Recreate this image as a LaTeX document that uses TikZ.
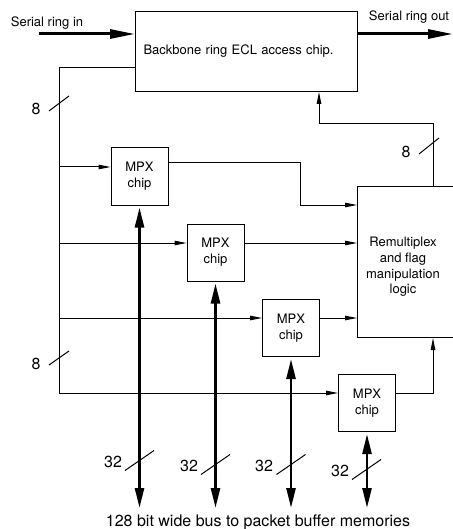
\documentclass[tikz,border=0pt]{standalone}
\usepackage{fontspec}
\setmainfont{TeX Gyre Heros}
\usetikzlibrary{calc, arrows.meta}
\tikzset{
  chip box/.style={draw, line width=1bp, minimum width=57bp, minimum height=57bp, inner sep=0pt, align=center, font=\fontsize{13bp}{15.7bp}\selectfont},
  box text/.style={align=center, font=\fontsize{13bp}{15.7bp}\selectfont},
  signal line/.style={line width=1bp},
  signal arrow/.style={line width=1bp, -{Triangle[length=12bp,width=4.5bp]}},
  ring arrow/.style={line width=3bp, -{Triangle[length=25bp,width=9bp]}},
  bus arrow/.style={line width=2.5bp, {Triangle[length=20bp,width=9bp]}-{Triangle[length=20bp,width=9bp]}, shorten <=2bp},
  tick line/.style={line width=1bp},
  width label/.style={font=\fontsize{16bp}{19bp}\selectfont},
}
\newcommand{\drawWidthTick}[5]{% centre, half run, half rise, label, label offset
  \draw[tick line] ($#1+(-#2,#3)$) -- ($#1+(#2,-#3)$);
  \node[width label] at ($#1+(#5)$) {#4};
}

\begin{document}
\begin{tikzpicture}[x=1bp, y=-1bp]
  \useasboundingbox (0,0) rectangle (453,529);
  \clip (0,0) rectangle (453,529);
  % blocks
  \node[chip box, anchor=north west, minimum width=222bp, minimum height=80bp, text width=206bp, inner xsep=8bp, align=left] (backbone) at (135,11) {Backbone ring ECL access chip.};
  \node[chip box, anchor=north west, minimum width=104bp, minimum height=151bp] (remux) at (357,186) {};
  \node[box text] (remuxtext) at (403,267) {Remultiplex\\and flag\\manipulation\\logic};
  \foreach \i/\x/\y in {1/139.5/176.5, 2/215.5/252.5, 3/291/328, 4/367/403}
    \node[chip box] (mpx\i) at (\x,\y) {MPX\\chip};

  \coordinate (ringin) at (39,34);
  \coordinate (ringout) at (453,34);
  \coordinate (busTop) at (59,68);
  \foreach \i/\y in {1/167, 2/243, 3/318, 4/393}
    \coordinate (tap\i) at (59,\y);
  \coordinate (bend1) at (300,163);
  \coordinate (feed1) at (357,205);
  \coordinate (ret) at (433,124);
  \coordinate (retEnd) at (319,124);
  \coordinate (busEnd) at (0,508);

  % serial ring
  \draw[ring arrow] (ringin) -- (ringin -| backbone.west);
  \draw[ring arrow] (ringin -| backbone.east) -- (ringout);
  \node[box text] (ringinlabel) at (47,23) {Serial ring in};
  \node[box text] (ringoutlabel) at (409,17) {Serial ring out};

  % 8 bit paths
  \draw[signal line] (backbone.west |- busTop) -- (busTop) -- (tap4);
  \foreach \i in {1,2,3,4}
    \draw[signal arrow] (tap\i) -- (tap\i -| mpx\i.west);
  \draw[signal arrow] (mpx1.east |- bend1) -- (bend1) |- (feed1);
  \foreach \i in {2,3}
    \draw[signal arrow] (tap\i -| mpx\i.east) -- (tap\i -| remux.west);
  \draw[signal arrow] (tap4 -| mpx4.east) -| (remux.south -| ret);
  \draw[signal arrow] (remux.north -| ret) -- (ret) -- (retEnd) -- (backbone.south -| retEnd);

  % 32 bit buses
  \foreach \i in {1,...,4}
    \draw[bus arrow] (mpx\i.south) -- (mpx\i.south |- busEnd);
  \node[width label] (buslabel) at (258,522) {128 bit wide bus to packet buffer memories};

  \drawWidthTick{(59,103.5)}{10}{7.5}{8}{-23,5.5}
  \drawWidthTick{(429,146)}{10}{8}{8}{-23,6}
  \drawWidthTick{(59,358)}{10}{7}{8}{-23,6}
  \drawWidthTick{(139.5,460.5)}{14.5}{10}{32}{-26.5,1.5}
  \drawWidthTick{(215.5,464.5)}{14.5}{10}{32}{-26.5,1}
  \drawWidthTick{(291,464.5)}{14.5}{10}{32}{-27,1}
  \drawWidthTick{(366.5,469.5)}{14.5}{10}{32}{-26.5,1.5}
\end{tikzpicture}
\end{document}
